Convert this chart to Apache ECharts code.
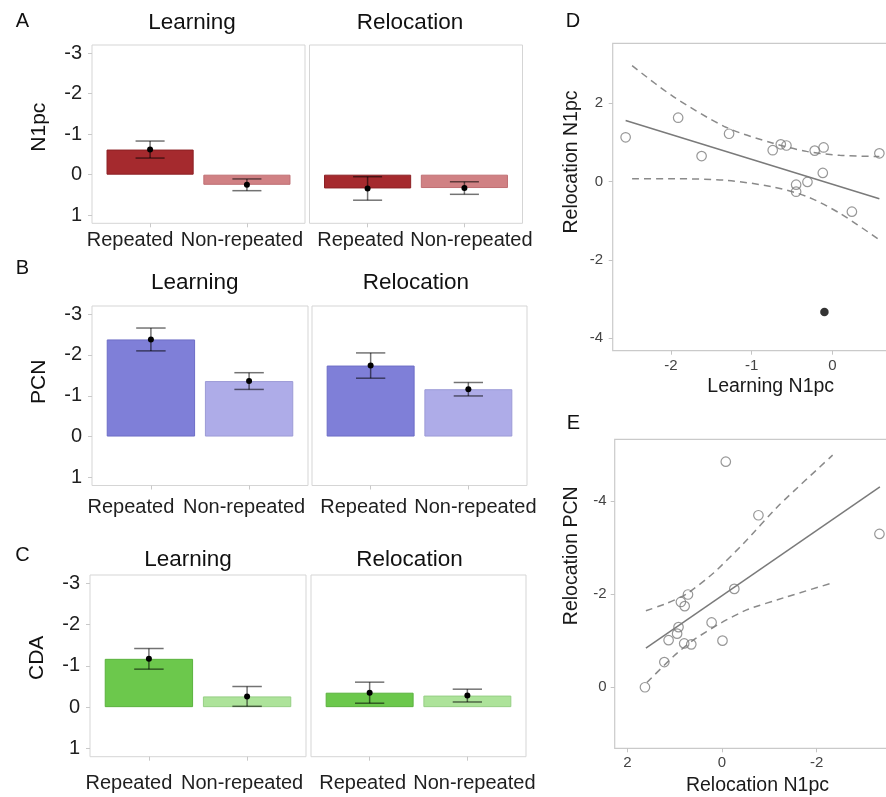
<!DOCTYPE html>
<html>
<head>
<meta charset="utf-8">
<script src="https://cdn.jsdelivr.net/npm/echarts@6/dist/echarts.min.js"></script>
<style>
  html, body { margin: 0; padding: 0; background: #ffffff; }
  #chart { width: 886px; height: 797px; }
</style>
</head>
<body>
<div id="chart"></div>
<script>
// ---- Categories and labels ----
const conditions = ['Repeated', 'Non-repeated'];
const phases = ['Learning', 'Relocation'];
const measures = ['N1pc', 'PCN', 'CDA'];
const rowLetters = ['A', 'B', 'C'];
const barYTicks = [-3, -2, -1, 0, 1];

// ---- Mean amplitudes and standard errors: [Repeated, Non-repeated] ----
const n1pcLearningMean = [-0.62, 0.25];
const n1pcLearningSE = [0.21, 0.145];
const n1pcRelocationMean = [0.34, 0.33];
const n1pcRelocationSE = [0.29, 0.155];

const pcnLearningMean = [-2.38, -1.36];
const pcnLearningSE = [0.28, 0.205];
const pcnRelocationMean = [-1.74, -1.16];
const pcnRelocationSE = [0.31, 0.165];

const cdaLearningMean = [-1.17, -0.26];
const cdaLearningSE = [0.25, 0.24];
const cdaRelocationMean = [-0.35, -0.28];
const cdaRelocationSE = [0.255, 0.155];

// ---- Per-subject values used in the correlation plots ----
const learningN1pc   = [-2.56, -1.91, -1.62, -1.28, -0.74, -0.64, -0.57, -0.22, -0.11, 0.58, -0.12, -0.31, -0.45, -0.45, 0.24, -0.10];
const relocationN1pc = [1.13, 1.63, 0.65, 1.22, 0.80, 0.95, 0.92, 0.79, 0.87, 0.72, 0.22, -0.01, -0.08, -0.26, -0.77, -3.33];
const relocationPCN  = [-1.01, 0.00, -0.92, -0.54, -0.94, -1.15, -1.29, -1.74, -1.83, -1.99, -1.39, -1.00, -4.84, -2.11, -3.69, -3.29];
const outlierSubjects = [15];

// Linear fit and 95% confidence band, Learning N1pc vs Relocation N1pc
const fitDX = [-2.56, 0.58];
const fitDY = [1.56, -0.44];
const bandDX = [-2.48, -1.97, -1.31, -0.735, -0.32, 0.09, 0.58];
const bandDUpper = [2.96, 2.17, 1.38, 0.98, 0.77, 0.67, 0.64];
const bandDLower = [0.07, 0.07, 0.03, -0.14, -0.38, -0.81, -1.49];
const dXTicks = [-2, -1, 0];
const dYTicks = [-4, -2, 0, 2];

// Linear fit and 95% confidence band, Relocation N1pc vs Relocation PCN
const fitEX = [1.61, -3.34];
const fitEY = [-0.84, -4.30];
const bandEUpperX = [1.61, 1.17, 0.75, 0.18, -0.45, -1.22, -2.34];
const bandEUpper  = [-1.64, -1.80, -2.00, -2.45, -3.08, -3.92, -4.98];
const bandELowerX = [1.59, 1.03, 0.61, 0.04, -0.52, -1.37, -2.34];
const bandELower  = [-0.10, -0.66, -1.01, -1.37, -1.66, -1.94, -2.24];
const eXTicks = [2, 0, -2];
const eYTicks = [-4, -2, 0];

// ---- Styling and layout ----
const FONT = "'Liberation Sans', Arial, Helvetica, sans-serif";
const barColors = [
  ['#a52a2e', '#d08184'],
  ['#7f7fd8', '#aeace8'],
  ['#6cc84c', '#ade39a']
];
const barEdge = [
  ['#8c2024', '#bf6f73'],
  ['#6d6dc6', '#9c9ad6'],
  ['#5bb23e', '#97cf85']
];
const rowLayout = [
  { top: 45,  height: 178.3, lefts: [92, 309.5], widths: [213, 213], labelMargin: 7.5,  titleY: 23,    titleX: [192, 410],     letterY: 21.5,  nameLift: 7 },
  { top: 306, height: 179.5, lefts: [92, 312],   widths: [216, 215], labelMargin: 12,   titleY: 283,   titleX: [194.7, 415.8], letterY: 268.5, nameLift: 14 },
  { top: 575, height: 181.7, lefts: [90, 311],   widths: [216, 215], labelMargin: 16.5, titleY: 559.5, titleX: [188, 409.5],   letterY: 555.5, nameLift: 8 }
];
// horizontal nudge of each category label (Learning / Relocation panels)
const labelNudge = [[-20, -5], [-7, 7]];

const means = [
  [n1pcLearningMean, n1pcRelocationMean],
  [pcnLearningMean, pcnRelocationMean],
  [cdaLearningMean, cdaRelocationMean]
];
const ses = [
  [n1pcLearningSE, n1pcRelocationSE],
  [pcnLearningSE, pcnRelocationSE],
  [cdaLearningSE, cdaRelocationSE]
];

const grids = [], xAxes = [], yAxes = [], series = [], graphics = [];
const hiddenLine = { show: false, onZero: false };

function richFor(nudges) {
  const rich = {};
  nudges.forEach((s, i) => {
    rich['c' + i] = {
      fontSize: 20, color: '#1f1f1f', fontFamily: FONT,
      padding: s < 0 ? [0, -2 * s, 0, 0] : [0, 0, 0, 2 * s]
    };
  });
  return rich;
}

rowLayout.forEach((row, r) => {
  graphics.push({
    type: 'text', x: 22.5, y: row.letterY,
    style: { text: rowLetters[r], fontSize: 20, fontFamily: FONT, fill: '#111', align: 'center', verticalAlign: 'middle' }
  });
  phases.forEach((phase, p) => {
    const g = grids.length;
    const unitPx = row.widths[p] / 2.2;
    grids.push({
      left: row.lefts[p], top: row.top, width: row.widths[p], height: row.height,
      show: true, borderColor: '#d5d5d5', borderWidth: 1, backgroundColor: 'transparent',
      containLabel: false, outerBoundsMode: 'none'
    });
    graphics.push({
      type: 'text', x: row.titleX[p], y: row.titleY,
      style: { text: phase, fontSize: 22.5, fontFamily: FONT, fill: '#111', align: 'center', verticalAlign: 'middle' }
    });
    xAxes.push({
      type: 'value', gridIndex: g, min: 0.4, max: 2.6, position: 'bottom',
      axisLine: hiddenLine, splitLine: { show: false },
      axisTick: { show: true, customValues: [1, 2], length: 4, lineStyle: { color: '#c9c9c9' } },
      axisLabel: {
        customValues: [1, 2], margin: row.labelMargin,
        formatter: v => '{c' + (Math.round(v) - 1) + '|' + conditions[Math.round(v) - 1] + '}',
        rich: richFor(labelNudge[p])
      }
    });
    const isLeft = p === 0;
    yAxes.push({
      type: 'value', gridIndex: g, inverse: true, min: -3.2, max: 1.2, position: 'left',
      axisLine: hiddenLine, splitLine: { show: false },
      axisTick: { show: isLeft, customValues: barYTicks, length: 4, lineStyle: { color: '#c9c9c9' } },
      axisLabel: { show: isLeft, customValues: barYTicks, margin: 10, fontSize: 20, color: '#1f1f1f', fontFamily: FONT },
      name: isLeft ? measures[r] : '', nameLocation: 'middle', nameGap: 42, nameRotate: 90,
      nameTextStyle: { fontSize: 21, color: '#111', fontFamily: FONT, padding: [0, 0, 0, 2 * row.nameLift] }
    });
    const m = means[r][p], s = ses[r][p];
    series.push({
      type: 'bar', xAxisIndex: g, yAxisIndex: g, barWidth: 0.9 * unitPx,
      silent: true, animation: false,
      data: m.map((v, i) => ({
        value: [i + 1, v],
        itemStyle: { color: barColors[r][i], borderColor: barEdge[r][i], borderWidth: 1 }
      }))
    });
    series.push({
      type: 'custom', xAxisIndex: g, yAxisIndex: g, silent: true, animation: false, z: 5,
      data: m.map((v, i) => [i + 1, v - s[i], v + s[i], v]),
      encode: { x: 0, y: [1, 2, 3] },
      renderItem: (params, api) => {
        const x = api.value(0);
        const pLo = api.coord([x, api.value(1)]);
        const pHi = api.coord([x, api.value(2)]);
        const pM = api.coord([x, api.value(3)]);
        const half = api.size([0.3, 0])[0] / 2;
        const st = { stroke: 'rgba(0,0,0,0.55)', lineWidth: 1.5 };
        return {
          type: 'group', children: [
            { type: 'line', shape: { x1: pLo[0], y1: pLo[1], x2: pHi[0], y2: pHi[1] }, style: st },
            { type: 'line', shape: { x1: pLo[0] - half, y1: pLo[1], x2: pLo[0] + half, y2: pLo[1] }, style: st },
            { type: 'line', shape: { x1: pHi[0] - half, y1: pHi[1], x2: pHi[0] + half, y2: pHi[1] }, style: st },
            { type: 'circle', shape: { cx: pM[0], cy: pM[1], r: 3 }, style: { fill: '#000' } }
          ]
        };
      }
    });
  });
});

// ---- Correlation panels ----
const scatterAxisLabel = { fontSize: 15, color: '#444', fontFamily: FONT };
const scatterTick = { show: true, length: 4, lineStyle: { color: '#c4c4c4' } };
const nameStyle = { fontSize: 19.5, color: '#1a1a1a', fontFamily: FONT };
const openPoint = { color: 'rgba(255,255,255,0)', borderColor: '#7d7d7d', borderWidth: 1.2 };
const fitLine = { color: '#7a7a7a', width: 1.5 };
const bandLine = { color: '#8a8a8a', width: 1.5, type: [7, 5] };

function pairs(xs, ys) { return xs.map((x, i) => [x, ys[i]]); }

// D: Learning N1pc vs Relocation N1pc
const gD = grids.length;
grids.push({ left: 612.7, top: 43.3, width: 280, height: 307.4, show: true, borderColor: '#cacaca', borderWidth: 1.2,
  backgroundColor: 'transparent', containLabel: false, outerBoundsMode: 'none' });
xAxes.push({
  type: 'value', gridIndex: gD, min: -2.72, max: 0.745, position: 'bottom',
  axisLine: hiddenLine, splitLine: { show: false },
  axisTick: Object.assign({ customValues: dXTicks }, scatterTick),
  axisLabel: Object.assign({ customValues: dXTicks, margin: 8 }, scatterAxisLabel),
  name: 'Learning N1pc', nameLocation: 'middle', nameGap: 26,
  nameTextStyle: Object.assign({ padding: [0, 0, 0, 36] }, nameStyle)
});
yAxes.push({
  type: 'value', gridIndex: gD, min: -4.32, max: 3.53, position: 'left',
  axisLine: hiddenLine, splitLine: { show: false },
  axisTick: Object.assign({ customValues: dYTicks }, scatterTick),
  axisLabel: Object.assign({ customValues: dYTicks, margin: 9.5 }, scatterAxisLabel),
  name: 'Relocation N1pc', nameLocation: 'middle', nameGap: 31, nameRotate: 90,
  nameTextStyle: Object.assign({ padding: [0, 0, 0, 70] }, nameStyle)
});
series.push(
  { type: 'line', xAxisIndex: gD, yAxisIndex: gD, data: pairs(bandDX, bandDUpper), smooth: 0.3, showSymbol: false, lineStyle: bandLine, silent: true, animation: false },
  { type: 'line', xAxisIndex: gD, yAxisIndex: gD, data: pairs(bandDX, bandDLower), smooth: 0.3, showSymbol: false, lineStyle: bandLine, silent: true, animation: false },
  { type: 'line', xAxisIndex: gD, yAxisIndex: gD, data: pairs(fitDX, fitDY), showSymbol: false, lineStyle: fitLine, silent: true, animation: false },
  {
    type: 'scatter', xAxisIndex: gD, yAxisIndex: gD, silent: true, animation: false, z: 4,
    symbol: 'circle', symbolSize: 9.5, itemStyle: openPoint,
    data: learningN1pc.map((x, i) => outlierSubjects.includes(i)
      ? { value: [x, relocationN1pc[i]], symbolSize: 8.5, itemStyle: { color: '#000', borderWidth: 0 } }
      : { value: [x, relocationN1pc[i]] })
  }
);
graphics.push({
  type: 'text', x: 573, y: 21,
  style: { text: 'D', fontSize: 20, fontFamily: FONT, fill: '#111', align: 'center', verticalAlign: 'middle' }
});

// E: Relocation N1pc vs Relocation PCN
const gE = grids.length;
grids.push({ left: 614.7, top: 439.3, width: 277.5, height: 309, show: true, borderColor: '#cacaca', borderWidth: 1.2,
  backgroundColor: 'transparent', containLabel: false, outerBoundsMode: 'none' });
xAxes.push({
  type: 'value', gridIndex: gE, inverse: true, min: -3.6, max: 2.27, position: 'bottom',
  axisLine: hiddenLine, splitLine: { show: false },
  axisTick: Object.assign({ customValues: eXTicks }, scatterTick),
  axisLabel: Object.assign({ customValues: eXTicks, margin: 7.5 }, scatterAxisLabel),
  name: 'Relocation N1pc', nameLocation: 'middle', nameGap: 27,
  nameTextStyle: Object.assign({ padding: [0, 0, 0, 8] }, nameStyle)
});
yAxes.push({
  type: 'value', gridIndex: gE, inverse: true, min: -5.32, max: 1.31, position: 'left',
  axisLine: hiddenLine, splitLine: { show: false },
  axisTick: Object.assign({ customValues: eYTicks }, scatterTick),
  axisLabel: Object.assign({ customValues: eYTicks, margin: 8 }, scatterAxisLabel),
  name: 'Relocation PCN', nameLocation: 'middle', nameGap: 33, nameRotate: 90,
  nameTextStyle: Object.assign({ padding: [0, 0, 0, 76] }, nameStyle)
});
series.push(
  { type: 'line', xAxisIndex: gE, yAxisIndex: gE, data: pairs(bandEUpperX, bandEUpper), smooth: 0.2, showSymbol: false, lineStyle: bandLine, silent: true, animation: false },
  { type: 'line', xAxisIndex: gE, yAxisIndex: gE, data: pairs(bandELowerX, bandELower), smooth: 0.2, showSymbol: false, lineStyle: bandLine, silent: true, animation: false },
  { type: 'line', xAxisIndex: gE, yAxisIndex: gE, data: pairs(fitEX, fitEY), showSymbol: false, lineStyle: fitLine, silent: true, animation: false },
  {
    type: 'scatter', xAxisIndex: gE, yAxisIndex: gE, silent: true, animation: false, z: 4,
    symbol: 'circle', symbolSize: 9.5, itemStyle: openPoint,
    data: pairs(relocationN1pc, relocationPCN)
  }
);
graphics.push({
  type: 'text', x: 573.5, y: 423,
  style: { text: 'E', fontSize: 20, fontFamily: FONT, fill: '#111', align: 'center', verticalAlign: 'middle' }
});

const chart = echarts.init(document.getElementById('chart'), null, { renderer: 'canvas' });
chart.setOption({
  backgroundColor: '#ffffff',
  animation: false,
  textStyle: { fontFamily: FONT },
  grid: grids,
  xAxis: xAxes,
  yAxis: yAxes,
  series: series,
  graphic: graphics
});
</script>
</body>
</html>
